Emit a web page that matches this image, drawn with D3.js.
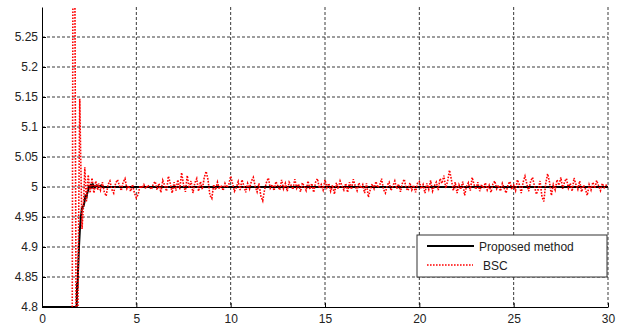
<!DOCTYPE html>
<html>
<head>
<meta charset="utf-8">
<script src="https://cdn.jsdelivr.net/npm/d3@7"></script>
<style>
body{margin:0;background:#fff;}
svg{display:block;font-family:"Liberation Sans",Arial,sans-serif;}
</style>
</head>
<body>
<svg width="619" height="325"></svg>
<script>
// tick values
const xTicks=[0,5,10,15,20,25,30];
const yTicks=[4.8,4.85,4.9,4.95,5,5.05,5.1,5.15,5.2,5.25];

// proposed method (start-up transient, then flat)
const propT=[0,1.84,1.86,1.88,1.91,1.96,2.01,2.06,2.12,2.2,2.25,2.3,2.36,2.4,2.45,2.5,2.55,2.6,2.65,2.7,2.8,2.9,3.0,3.1,3.2,30];
const propV=[4.8,4.8,4.84,4.83,4.86,4.9,4.93,4.95,4.966,4.968,4.975,4.985,4.983,4.99,4.995,5.003,4.997,5.005,4.998,5.004,4.999,5.003,5.0,5.002,5.0,5.0];

// BSC transient
const bscT0=[1.60,1.64,1.74,1.81,1.9,2.0,2.05,2.12,2.2,2.27,2.35,2.45,2.55,2.65,2.75,2.85,2.95];
const bscV0=[4.75,5.35,5.35,4.75,4.78,5.147,5.05,4.93,4.97,5.033,4.975,5.02,4.99,5.015,4.99,5.01,4.995];
// BSC steady state, sampled every 0.1 s from t = 3.0
const bscStart=3.0, bscStep=0.1;
const bscV=[
5.006,4.995,5.008,4.992,4.985,5.004,5.010,4.996,4.990,5.006,
5.012,5.003,4.994,5.008,5.014,4.997,5.002,4.993,5.004,4.990,
4.982,4.988,5.002,4.998,5.004,4.997,5.003,5.000,4.996,5.005,
5.009,4.995,5.006,4.991,5.011,5.003,4.993,5.018,5.006,4.990,
5.008,4.994,5.012,4.996,5.024,5.004,4.992,5.019,4.998,5.010,
4.990,5.007,5.014,4.993,5.009,4.996,5.016,5.026,5.012,4.986,
4.981,5.004,4.995,5.008,4.997,5.003,4.994,5.006,4.999,5.004,
5.018,5.006,4.993,4.999,5.009,4.995,5.012,5.002,4.991,5.006,
4.997,5.010,5.016,5.001,4.992,5.006,4.985,4.977,4.996,5.008,
5.015,4.998,5.004,4.994,5.009,5.002,4.995,5.012,4.997,5.006,
4.993,5.008,5.003,4.996,5.013,4.998,5.005,4.992,5.007,5.001,
4.994,5.010,4.996,5.006,4.991,5.008,5.014,4.998,5.004,4.995,
5.012,4.999,5.006,4.993,5.003,4.988,5.007,4.997,5.010,5.002,
4.995,5.006,4.991,5.008,4.996,5.013,5.002,4.994,5.007,4.998,
5.004,4.990,5.006,4.983,4.996,5.005,4.997,5.009,4.999,5.003,
5.014,4.996,4.990,5.003,5.008,4.994,5.002,5.010,4.997,5.005,
4.992,5.006,5.013,4.998,4.994,5.007,4.995,5.003,4.991,5.006,
5.009,4.997,5.004,4.990,5.006,4.996,5.011,4.993,5.002,5.008,
4.995,5.014,5.006,5.019,4.998,5.010,5.028,5.012,4.994,5.008,
4.990,5.004,4.996,5.009,4.986,5.001,5.007,4.994,5.016,5.004,
4.996,5.008,4.993,5.004,4.998,5.007,4.995,5.003,4.991,5.005,
5.010,4.997,5.003,4.993,5.006,4.998,4.990,5.004,5.009,4.996,
5.003,4.994,5.012,5.004,4.990,5.008,5.018,5.005,4.993,5.010,
5.016,5.002,4.988,4.996,5.010,4.984,4.976,5.006,5.022,5.008,
4.986,5.004,4.995,5.012,5.003,5.016,4.997,5.009,5.014,4.998,
5.006,4.993,5.015,5.004,4.996,5.010,4.992,5.003,4.997,4.986,
5.004,4.995,5.008,4.998,5.011,5.002,4.994,5.006,4.999,5.003,
5.000];

const svg=d3.select("svg");
const margin={top:7,right:11,bottom:18,left:42};
const width=+svg.attr("width")-margin.left-margin.right;
const height=+svg.attr("height")-margin.top-margin.bottom;
const g=svg.append("g").attr("transform","translate("+margin.left+","+margin.top+")");

const x=d3.scaleLinear().domain([0,30]).range([0,width]);
const y=d3.scaleLinear().domain([4.8,5.3]).range([height,0]);

svg.append("defs").append("clipPath").attr("id","clip")
   .append("rect").attr("width",width).attr("height",height);

// grid
g.append("g").selectAll("line").data(xTicks.slice(1)).enter().append("line")
 .attr("x1",d=>x(d)).attr("x2",d=>x(d)).attr("y1",0).attr("y2",height)
 .attr("stroke","#3a3a3a").attr("stroke-dasharray","3,2");
g.append("g").selectAll("line").data(yTicks.slice(1)).enter().append("line")
 .attr("x1",0).attr("x2",width).attr("y1",d=>y(d)).attr("y2",d=>y(d))
 .attr("stroke","#3a3a3a").attr("stroke-dasharray","3,2");

// data
const propData=propT.map((t,i)=>[t,propV[i]]);
const bscData=bscT0.map((t,i)=>[t,bscV0[i]])
   .concat(bscV.map((v,i)=>[bscStart+i*bscStep,v]));
const line=d3.line().x(d=>x(d[0])).y(d=>y(d[1]));

const plot=g.append("g").attr("clip-path","url(#clip)");
plot.append("path").datum(propData).attr("d",line)
    .attr("fill","none").attr("stroke","#000").attr("stroke-width",2);
plot.append("path").datum(bscData).attr("d",line)
    .attr("fill","none").attr("stroke","#ff0000").attr("stroke-width",1.6)
    .attr("stroke-dasharray","1.6,1.4");

// axes
const xAxis=g.append("g").attr("transform","translate(0,"+height+")")
   .call(d3.axisBottom(x).tickValues(xTicks).tickFormat(d3.format("d")).tickSizeInner(-4).tickSizeOuter(0).tickPadding(7));
const yAxis=g.append("g")
   .call(d3.axisLeft(y).tickValues(yTicks).tickFormat(d=>String(+d.toFixed(2))).tickSizeInner(-4).tickSizeOuter(0).tickPadding(4));
[xAxis,yAxis].forEach(a=>{
  a.selectAll("text").attr("fill","#222").style("font-size","12px").style("font-family","'Liberation Sans',Arial,sans-serif");
  a.select(".domain").attr("stroke","#000");
  a.selectAll(".tick line").attr("stroke","#000");
});

// legend
const lg=svg.append("g");
lg.append("rect").attr("x",417).attr("y",235).attr("width",190).attr("height",42)
  .attr("fill","#fff").attr("stroke","#333");
lg.append("line").attr("x1",427).attr("x2",474).attr("y1",246).attr("y2",246)
  .attr("stroke","#000").attr("stroke-width",2);
lg.append("text").attr("x",479).attr("y",250.5).attr("fill","#222").style("font-size","12px").text("Proposed method");
lg.append("line").attr("x1",427).attr("x2",473).attr("y1",265).attr("y2",265)
  .attr("stroke","#ff0000").attr("stroke-width",1.6).attr("stroke-dasharray","1.6,1.4");
lg.append("text").attr("x",483).attr("y",269.5).attr("fill","#222").style("font-size","12px").text("BSC");
</script>
</body>
</html>
